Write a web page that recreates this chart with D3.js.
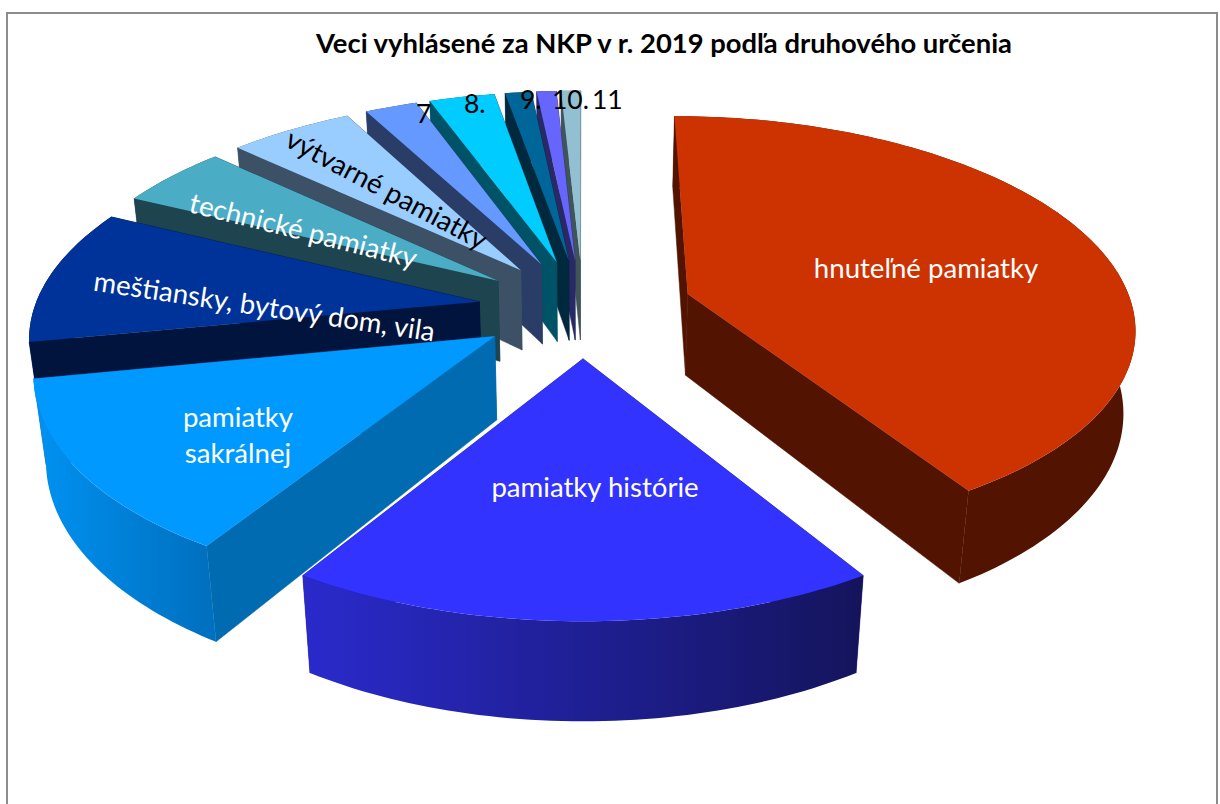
<!DOCTYPE html>
<html><head><meta charset="utf-8">
<script src="https://cdn.jsdelivr.net/npm/d3@7"></script>
<style>html,body{margin:0;padding:0;background:#fff}svg{display:block}text{font-family:Lato,Carlito,Calibri,sans-serif}</style>
</head><body><svg id="c" width="1220" height="804"></svg>
<script>
const titleText = "Veci vyhlásené za NKP v r. 2019 podľa druhového určenia";
const categories = ["hnuteľné pamiatky","pamiatky histórie","pamiatky sakrálnej","meštiansky, bytový dom, vila","technické pamiatky","výtvarné pamiatky","7","8.","9.","10.","11"];
const values = [148,64,47,37,17,19,8,10,4,3,3];
const topColors = ["#CC3300","#3333FF","#0099FF","#003399","#4BACC6","#99CCFF","#6699FF","#00CCFF","#006699","#6666FF","#92C0D2"];
const sideColors = ["#521400","#181880","#006BB0","#00143D","#1E454F","#3D5166","#293D66","#005266","#00293D","#292966","#3F5558"];
const arcLeft = ["#521400","#2A2ACC","#0092F2","#00143D","#1E454F","#3D5166","#293D66","#005266","#00293D","#292966","#3F5558"];
const arcRight = ["#521400","#14145C","#0070C0","#00143D","#1E454F","#3D5166","#293D66","#005266","#00293D","#292966","#3F5558"];
const drawOrder = [10,9,8,7,6,5,4,3,0,1,2];

const vx=583, cy=308, A=1420, R=445, D=3043, thick=82, depthPersp=0.022;
const explodeOf = i => i===0 ? 110 : 105;
function project(X,Y,d){
  const w=1+Y/D;
  return [vx+X/(w+d*depthPersp), cy+A*(1/w-1)+d*thick/w];
}
const svg=d3.select("#c");
const defs=svg.append("defs");
svg.append("rect").attr("x",7).attr("y",13).attr("width",1210).attr("height",830).attr("fill","#fff").attr("stroke","#8c8c8c").attr("stroke-width",2);
svg.append("text").attr("x",664).attr("y",53).attr("text-anchor","middle").attr("font-size",27.4).attr("font-weight",700).attr("fill","#000").text(titleText);

const arcs=d3.pie().sort(null).value(d=>d)(values);
const line=d3.line();
function geom(a,i){
  const mid=(a.startAngle+a.endAngle)/2, e=explodeOf(i);
  const ox=e*Math.sin(mid), oy=e*Math.cos(mid);
  const n=Math.max(4,Math.ceil((a.endAngle-a.startAngle)/0.02));
  const angs=d3.range(n+1).map(k=>a.startAngle+(a.endAngle-a.startAngle)*k/n);
  const rim=d=>angs.map(t=>project(ox+R*Math.sin(t),oy+R*Math.cos(t),d));
  const apex=d=>project(ox,oy,d);
  return {rim,apex};
}
drawOrder.forEach(i=>{
  const g=geom(arcs[i],i);
  const t=g.rim(0), b=g.rim(1), a0=g.apex(0), a1=g.apex(1);
  const xs=t.map(p=>p[0]);
  const id="w"+i;
  const gr=defs.append("linearGradient").attr("id",id).attr("gradientUnits","userSpaceOnUse")
    .attr("x1",d3.min(xs)).attr("x2",d3.max(xs)).attr("y1",0).attr("y2",0);
  gr.append("stop").attr("offset",0).attr("stop-color",arcLeft[i]);
  gr.append("stop").attr("offset",1).attr("stop-color",arcRight[i]);
  const gg=svg.append("g").attr("class","slice");
  [[a0,t[0],b[0],a1],[a0,t[t.length-1],b[b.length-1],a1]].forEach(q=>{
    gg.append("path").attr("d",line(q)+"Z").attr("fill",sideColors[i]).attr("stroke",sideColors[i]).attr("stroke-width",.5);
  });
  gg.append("path").attr("d",line(t.concat(b.slice().reverse()))+"Z").attr("fill",`url(#${id})`);
  gg.append("path").attr("d",line([a0].concat(t))+"Z").attr("fill",topColors[i]);
});

const labelLayout=[
 {i:0,x:926,y:278,r:0,c:"#fff"},
 {i:1,x:595,y:497,r:0,c:"#fff"},
 {i:3,x:263,y:316,r:8.5,c:"#fff"},
 {i:4,x:301,y:240,r:14,c:"#fff"},
 {i:5,x:382,y:198,r:28,c:"#000"}
];
const lbl=svg.append("g");
labelLayout.forEach(l=>{
  lbl.append("text").attr("transform",`translate(${l.x},${l.y}) rotate(${l.r})`).attr("text-anchor","middle")
   .attr("font-size",27.6).attr("fill",l.c).text(categories[l.i]);
});
const sak=categories[2].split(" ");
[[238,427,sak[0]],[238,463,sak[1]]].forEach(s=>{
  lbl.append("text").attr("x",s[0]).attr("y",s[1]).attr("text-anchor","middle").attr("font-size",27.6).attr("fill","#fff").text(s[2]);
});
[[416,123,6],[464,113,7],[520,109,8],[552,109,9],[592,109,10]].forEach(s=>{
  lbl.append("text").attr("x",s[0]).attr("y",s[1]).attr("font-size",26.5).attr("fill","#000").text(categories[s[2]]);
});
</script></body></html>
